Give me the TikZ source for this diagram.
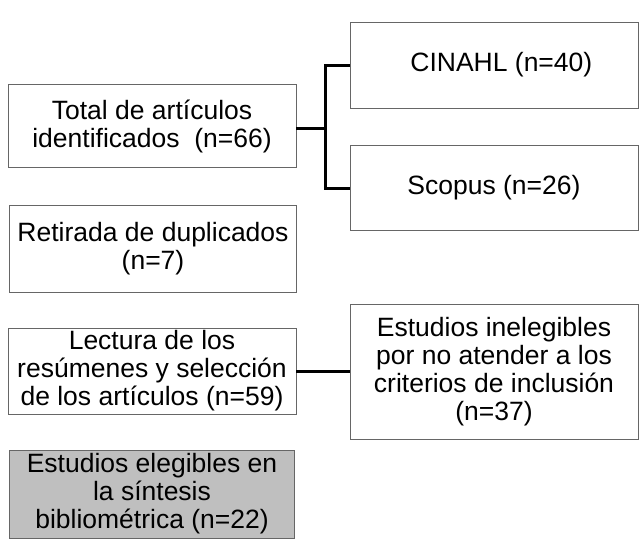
\documentclass[tikz,border=0pt]{standalone}
\usepackage{fontspec}
\setmainfont{Liberation Sans}
\begin{document}
\begin{tikzpicture}[x=1pt,y=-1pt,
 box/.style={draw=black!60,line width=0.8pt,align=center,font=\fontsize{26.5}{28}\selectfont,inner sep=0pt},
 conn/.style={line width=3pt,black}]
\useasboundingbox (0,0) rectangle (643,544);
\node[box,minimum width=288,minimum height=83] (tot) at (152,126) {Total de artículos\\identificados\ \ (n=66)};
\node[box,minimum width=288,minimum height=86] (cin) at (494,65) {\ \ CINAHL (n=40)};
\node[box,minimum width=288,minimum height=85] (sco) at (494,188) {Scopus (n=26)};
\node[box,minimum width=287,minimum height=87] (ret) at (153,249) {Retirada de duplicados\\(n=7)};
\node[box,minimum width=288,minimum height=86] (lec) at (152,371) {Lectura de los\\resúmenes y selección\\de los artículos (n=59)};
\node[box,minimum width=288,minimum height=135] (ine) at (494,372) {Estudios inelegibles\\por no atender a los\\criterios de inclusión\\(n=37)};
\node[box,fill=black!25,minimum width=285,minimum height=88] (ele) at (152,494) {Estudios elegibles en\\la síntesis\\bibliométrica (n=22)};
\coordinate (j) at (325,128);
\draw[conn] (tot.east|-j) -- (j);
\draw[conn] (cin.west) -| (j) |- (sco.west);
\draw[conn] (lec.east) -- (lec.east-|ine.west);
\end{tikzpicture}
\end{document}
